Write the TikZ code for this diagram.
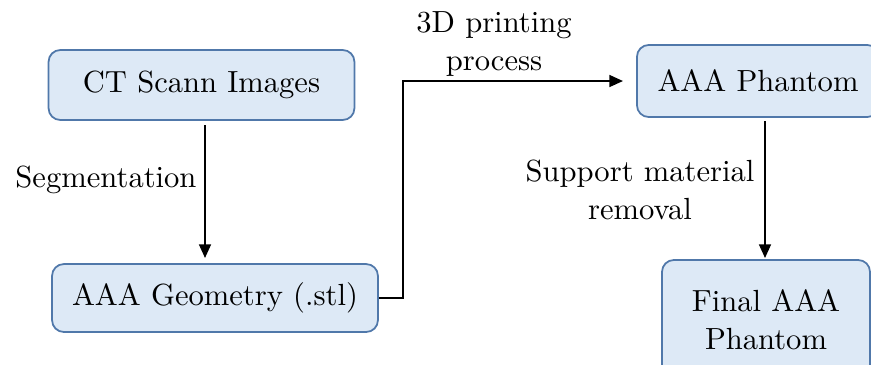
\documentclass[tikz,border=0pt]{standalone}
\usepackage{amsmath}
\usetikzlibrary{arrows.meta, positioning}

\definecolor{boxfill}{RGB}{221,233,246}
\definecolor{boxline}{RGB}{80,120,170}

\begin{document}
\begin{tikzpicture}[
    x=0.34pt, y=-0.34pt,
    font=\fontsize{10.4}{12.8}\selectfont,
    stepbox/.style={draw=boxline, fill=boxfill, rounded corners=4pt, line width=0.6pt, align=center, inner sep=2pt},
    arr/.style={-{Triangle[length=4.6pt, width=4pt]}, line width=0.65pt, black},
    lab/.style={align=center, inner sep=1pt}
]

% ramme
\useasboundingbox (0,0) rectangle (871,364);
\clip (0,0) rectangle (871,364);

% knuder
\node[stepbox, minimum width=104pt, minimum height=23.8pt] (ct) at (201.5,85) {CT Scann Images};
\node[stepbox, minimum width=110.8pt, minimum height=23.1pt] (geo) at (215,298) {AAA Geometry (.stl)};
\node[stepbox, minimum width=82.3pt, minimum height=24.5pt] (ph) at (758,81) {AAA Phantom};
\node[stepbox, minimum width=70.7pt, minimum height=40.8pt] (final) at (766,320) {Final AAA\\Phantom};

% hjaelpepunkter
\coordinate (segtop) at (205,125);
\coordinate (segbot) at (205,258);
\coordinate (bend) at (403,298);
\coordinate (phin) at (623,81);
\coordinate (remtop) at (765,121);
\coordinate (rembot) at (765,258);

% pile
\draw[arr] (segtop) -- (segbot);
\draw[arr] (geo.east) -- (bend) |- (phin);
\draw[arr] (remtop) -- (rembot);

% tekster
\node[lab, anchor=east] (seglab) at (200,180) {Segmentation};
\node[lab] (printlab) at (494,44) {3D printing\\process};
\node[lab] (remlab) at (640,190) {Support material\\removal};

\end{tikzpicture}
\end{document}
